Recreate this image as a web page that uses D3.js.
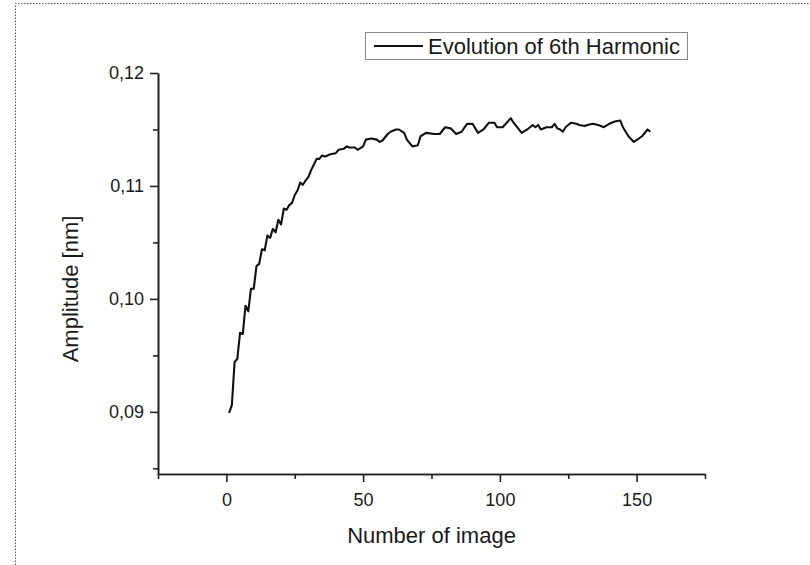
<!DOCTYPE html>
<html>
<head>
<meta charset="utf-8">
<script src="https://cdn.jsdelivr.net/npm/d3@7"></script>
<style>
  html, body { margin: 0; padding: 0; background: #fff; }
  svg { display: block; }
  text { font-family: "Liberation Sans", Arial, sans-serif; fill: #1a1a1a; }
</style>
</head>
<body>
<svg id="chart" width="810" height="565"></svg>
<script>
// ---- data ----
const imageNumber = [1,2,3,4,5,6,7,8,9,10,11,12,13,14,15,16,17,18,19,20,21,22,23,24,25,26,27,28,29,30,
  31,32,33,34,35,36,37,38,40,41,43,44,45,47,48,50,51,53,55,56,57,59,60,62,63,65,66,68,70,71,73,76,78,80,82,84,86,88,90,
  92,94,96,98,99,101,104,105,108,110,112,113,114,115,117,119,120,121,122,123,124,126,128,129,131,132,134,136,138,140,
  142,144,145,147,149,152,154,155];
const amplitude = [0.0899,0.0906,0.0944,0.0947,0.0970,0.0969,0.0994,0.0989,0.1009,0.1009,0.1029,0.1031,0.1044,0.1043,
  0.1056,0.1054,0.1062,0.1059,0.1070,0.1066,0.1080,0.1079,0.1083,0.1085,0.1092,0.1096,0.1103,0.1101,0.1105,0.1108,
  0.1114,0.1119,0.1124,0.1124,0.1127,0.1126,0.1127,0.1128,0.1129,0.1132,0.1133,0.1135,0.1134,0.1134,0.1132,0.1135,
  0.1141,0.1142,0.1141,0.1139,0.1140,0.1146,0.1148,0.1150,0.1150,0.1147,0.1141,0.1135,0.1136,0.1144,0.1147,0.1146,
  0.1146,0.1152,0.1151,0.1146,0.1148,0.1155,0.1155,0.1147,0.1150,0.1156,0.1156,0.1152,0.1152,0.1160,0.1156,0.1147,
  0.1150,0.1154,0.1152,0.1154,0.1150,0.1152,0.1152,0.1155,0.1151,0.1150,0.1148,0.1152,0.1156,0.1155,0.1154,0.1153,
  0.1154,0.1155,0.1154,0.1152,0.1155,0.1157,0.1158,0.1152,0.1144,0.1139,0.1144,0.1150,0.1148];
const xMajorTicks = [0, 50, 100, 150];
const xMinorTicks = [-25, 25, 75, 125, 175];
const yMajorTicks = [0.09, 0.10, 0.11, 0.12];
const yMinorTicks = [0.085, 0.095, 0.105, 0.115];
const seriesName = "Evolution of 6th Harmonic";
const xTitle = "Number of image";
const yTitle = "Amplitude [nm]";

// ---- layout ----
const svg = d3.select("#chart");
const plot = { left: 158, right: 705, top: 73, bottom: 474 };
const x = d3.scaleLinear().domain([-25, 175]).range([plot.left, plot.right]);
const y = d3.scaleLinear().domain([0.0845, 0.12]).range([plot.bottom, plot.top]);
const axisColor = "#222";

// dotted frame (top and left edges)
svg.append("path")
  .attr("d", "M15.5,565 L15.5,3.5 L810,3.5")
  .attr("fill", "none").attr("stroke", "#555").attr("stroke-width", 1)
  .attr("stroke-dasharray", "1.5,1.5");

// axes
const fmt = d => d3.format(".2f")(d).replace(".", ",");
const xAxis = svg.append("g").attr("transform", `translate(0,${plot.bottom})`)
  .call(d3.axisBottom(x).tickValues(xMajorTicks).tickSize(8).tickSizeOuter(0).tickPadding(11).tickFormat(d3.format("d")));
const xMinor = svg.append("g").attr("transform", `translate(0,${plot.bottom})`)
  .call(d3.axisBottom(x).tickValues(xMinorTicks).tickSize(5).tickSizeOuter(0).tickFormat(""));
const yAxis = svg.append("g").attr("transform", `translate(${plot.left},0)`)
  .call(d3.axisLeft(y).tickValues(yMajorTicks).tickSize(8).tickSizeOuter(0).tickPadding(6).tickFormat(fmt));
const yMinor = svg.append("g").attr("transform", `translate(${plot.left},0)`)
  .call(d3.axisLeft(y).tickValues(yMinorTicks).tickSize(5).tickSizeOuter(0).tickFormat(""));

[xAxis, xMinor, yAxis, yMinor].forEach(g => {
  g.selectAll("path.domain").attr("stroke", axisColor).attr("stroke-width", 1.6);
  g.selectAll(".tick line").attr("stroke", axisColor).attr("stroke-width", 1.6);
  g.selectAll(".tick text").style("font-family", '"Liberation Sans", Arial, sans-serif')
    .style("font-size", "18px").attr("fill", "#1a1a1a");
});

// axis titles
svg.append("text").attr("x", (plot.left + plot.right) / 2).attr("y", 543)
  .attr("text-anchor", "middle").style("font-size", "22px").text(xTitle);
svg.append("text").attr("transform", "translate(78,289) rotate(-90)")
  .attr("text-anchor", "middle").style("font-size", "22px").text(yTitle);

// line
const line = d3.line().x((d, i) => x(imageNumber[i])).y(d => y(d));
svg.append("path").datum(amplitude)
  .attr("d", line).attr("fill", "none").attr("stroke", "#111")
  .attr("stroke-width", 2.1).attr("stroke-linejoin", "round");

// legend
const lg = svg.append("g");
lg.append("rect").attr("x", 365.5).attr("y", 32.5).attr("width", 322).attr("height", 27)
  .attr("fill", "#fff").attr("stroke", "#888").attr("stroke-width", 1);
lg.append("line").attr("x1", 374).attr("x2", 423).attr("y1", 46).attr("y2", 46)
  .attr("stroke", "#111").attr("stroke-width", 2);
lg.append("text").attr("x", 428).attr("y", 53.5).style("font-size", "22px").text(seriesName);
</script>
</body>
</html>
